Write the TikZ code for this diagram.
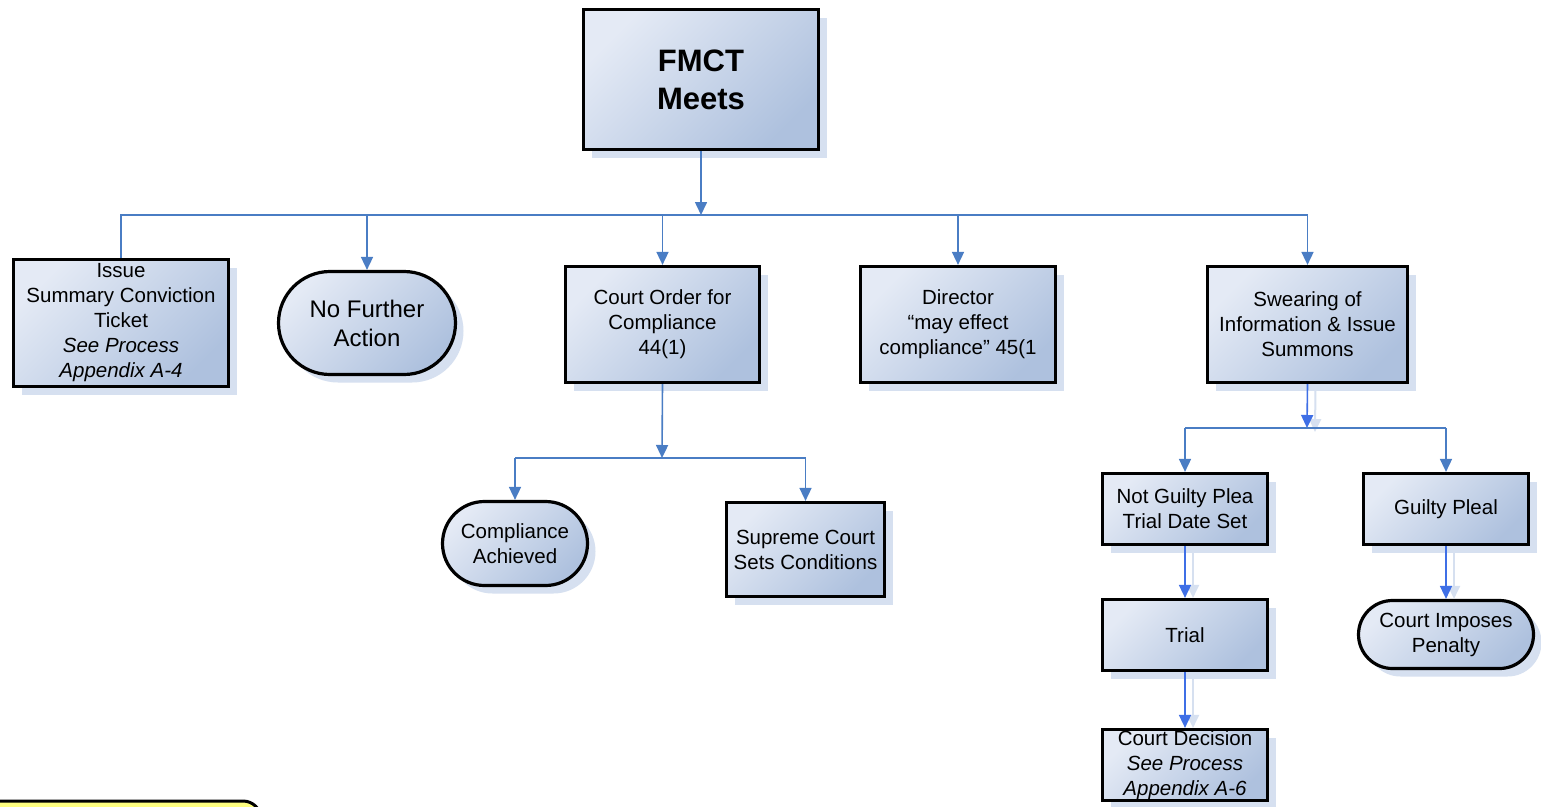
\documentclass[tikz,border=0pt]{standalone}
\usepackage{fontspec}
\setmainfont{Liberation Sans}
\usetikzlibrary{shapes.misc,shadows,arrows.meta}
\definecolor{boxlight}{HTML}{E4EAF5}
\definecolor{boxdark}{HTML}{AEC1DE}
\definecolor{shadowc}{HTML}{D6E0F0}
\definecolor{linec}{HTML}{4A7DC4}
\definecolor{brightc}{HTML}{3F6FE6}
\definecolor{yellowc}{HTML}{FFFF80}
\tikzset{
  base/.style={draw=black, line width=3.2pt, top color=boxlight, bottom color=boxdark,
    shading angle=45,
    drop shadow={shadow xshift=8pt, shadow yshift=-8pt, fill=shadowc, opacity=1},
    align=center, font=\fontsize{20.5}{25}\selectfont, inner sep=0pt},
  box/.style={base, rectangle},
  term/.style={base, rounded rectangle},
  conn/.style={linec, line width=1.6pt},
  arr/.style={conn, -{Triangle[length=13pt,width=12pt]}},
  arrb/.style={brightc, line width=1.6pt, -{Triangle[length=13pt,width=12pt]}},
  shline/.style={shadowc, line width=2pt, -{Triangle[length=13pt,width=12pt]}},
}
\begin{document}
\begin{tikzpicture}[x=1pt,y=-1pt]
\useasboundingbox (0,0) rectangle (1541,806);
\fill[white] (0,0) rectangle (1541,806);

% partial note at bottom left
\begin{scope}
  \clip (0,0) rectangle (1541,806);
  \node[draw=black, fill=yellowc, line width=3pt, rounded corners=18pt,
        minimum width=290pt, minimum height=80pt, inner sep=0pt] (note) at (116,841) {};
\end{scope}

% nodes
\node[box, minimum width=235pt, minimum height=140pt, font=\fontsize{31}{38}\selectfont\bfseries] (fmct) at (701,79.5) {FMCT\\Meets};
\node[box, minimum width=215pt, minimum height=127pt] (issue) at (121,323) {Issue\\Summary Conviction\\Ticket\\\textit{See Process}\\\textit{Appendix A-4}};
\node[term, minimum width=177pt, minimum height=103pt, font=\fontsize{24}{29}\selectfont] (nfa) at (367,323) {No Further\\Action};
\node[box, minimum width=194pt, minimum height=116pt] (order) at (662.5,324.5) {Court Order for\\Compliance\\44(1)};
\node[box, minimum width=195pt, minimum height=116pt] (director) at (958,324.5) {Director\\“may effect\\compliance” 45(1};
\node[box, minimum width=200pt, minimum height=116pt] (swear) at (1307.5,324.5) {Swearing of\\Information \& Issue\\Summons};
\node[term, minimum width=145pt, minimum height=84pt] (comp) at (515,543.5) {Compliance\\Achieved};
\node[box, minimum width=158pt, minimum height=94pt] (supreme) at (805.5,549.5) {Supreme Court\\Sets Conditions};
\node[box, minimum width=165pt, minimum height=71pt] (notg) at (1185,509) {Not Guilty Plea\\Trial Date Set};
\node[box, minimum width=165pt, minimum height=71pt] (guilty) at (1446,509) {Guilty Pleal};
\node[box, minimum width=165pt, minimum height=71pt] (trial) at (1185,635) {Trial};
\node[box, minimum width=165pt, minimum height=71pt] (decision) at (1185,765) {Court Decision\\\textit{See Process}\\\textit{Appendix A-6}};
\node[term, minimum width=175pt, minimum height=68pt] (penalty) at (1446,634.5) {Court Imposes\\Penalty};

% junction coordinates
\coordinate (j1) at (701,215);
\coordinate (j2) at (662,458);
\coordinate (j3) at (1307,428);

% connector shadows (swearing subtree)
\draw[shline] ([xshift=8pt]swear.south) -- ([xshift=8pt,yshift=-4pt]j3);
\draw[shline] ([xshift=8pt]notg.south) -- ([xshift=8pt]trial.north);
\draw[shline] ([xshift=8pt]trial.south) -- ([xshift=8pt]decision.north);
\draw[shline] ([xshift=8pt]guilty.south) -- ([xshift=8pt]penalty.north);

% level 1
\draw[arr] (fmct.south) -- (j1);
\draw[conn] (issue.north) -- (issue.north |- j1) -- (swear.north |- j1);
\draw[arr] (nfa.north |- j1) -- (nfa.north);
\draw[arr] (order.north |- j1) -- (order.north);
\draw[arr] (director.north |- j1) -- (director.north);
\draw[arr] (swear.north |- j1) -- (swear.north);

% court order subtree
\draw[arr] (order.south) -- (j2);
\draw[conn] (comp.north |- j2) -- (supreme.north |- j2);
\draw[arr] (comp.north |- j2) -- (comp.north);
\draw[arr] (supreme.north |- j2) -- (supreme.north);

% swearing subtree
\draw[arrb] (swear.south) -- (j3);
\draw[conn] (notg.north |- j3) -- (guilty.north |- j3);
\draw[arr] (notg.north |- j3) -- (notg.north);
\draw[arr] (guilty.north |- j3) -- (guilty.north);
\draw[arrb] (notg.south) -- (trial.north);
\draw[arrb] (trial.south) -- (decision.north);
\draw[arrb] (guilty.south) -- (penalty.north);
\end{tikzpicture}
\end{document}
